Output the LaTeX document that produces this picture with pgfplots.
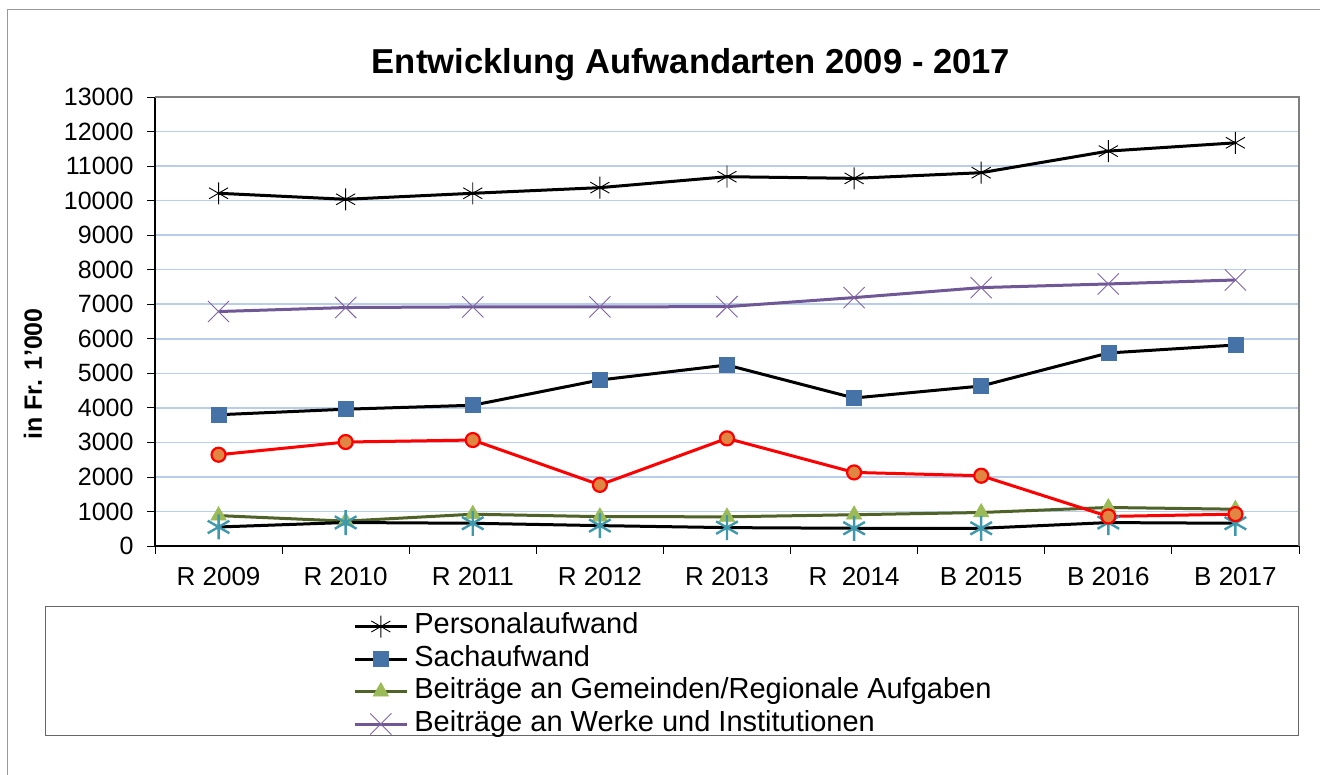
\documentclass[border=0pt]{standalone}
\usepackage{pgfplots}
\pgfplotsset{compat=1.18}
\usepackage{fontspec}
\setmainfont{Liberation Sans}
\definecolor{gridc}{RGB}{185,205,235}
\definecolor{sachc}{RGB}{69,114,167}
\definecolor{greenl}{RGB}{79,98,40}
\definecolor{greenm}{RGB}{155,187,89}
\definecolor{purl}{RGB}{112,88,150}
\definecolor{purm}{RGB}{128,100,162}
\definecolor{cyanm}{RGB}{64,152,172}
\definecolor{orangem}{RGB}{222,134,66}
\begin{document}
\begin{tikzpicture}
\path[use as bounding box] (0pt,0pt) rectangle (1320pt,775pt);
\draw[gray!80, line width=1pt] (7pt,0pt) -- (7pt,765pt) -- (1320pt,765pt);
\node[font=\bfseries\fontsize{34.6}{40}\selectfont] at (691pt,710pt) {Entwicklung Aufwandarten 2009 - 2017};
\node[font=\bfseries\fontsize{25}{30}\selectfont, rotate=90] at (33pt,401pt) {in Fr. 1'000};
\draw[gray!80!black, line width=1pt] (45pt,168pt) rectangle (1298pt,39pt);
\begin{axis}[
  at={(155pt,229pt)}, anchor=south west, scale only axis,
  width=1144pt, height=449pt,
  xmin=-0.5, xmax=8.5, ymin=0, ymax=13000,
  axis x line*=bottom, axis y line*=left,
  axis line style={black, line width=1.5pt},
  tick align=outside,
  major tick length=8pt, minor tick length=8pt,
  xtick={0,...,8},
  xticklabels={R 2009, R 2010, R 2011, R 2012, R 2013, R~~2014, B 2015, B 2016, B 2017},
  minor xtick={-0.5,0.5,...,8.5},
  major x tick style={draw=none},
  minor x tick style={black, line width=0.8pt},
  ytick={0,1000,...,13000},
  ytick style={black, line width=0.8pt},
  scaled y ticks=false,
  /pgf/number format/fixed,
  /pgf/number format/1000 sep={},
  /pgf/number format/assume math mode=true,
  yticklabel style={font=\fontsize{25}{30}\selectfont, xshift=-10pt},
  xticklabel style={font=\fontsize{26}{30}\selectfont, yshift=-10pt},
  ymajorgrids, grid style={gridc, line width=1.5pt},
  legend style={at={(0.1706,-0.141)}, anchor=north west, draw=none, fill=none,
     font=\fontsize{29}{32}\selectfont,
     nodes={inner sep=1pt, text height=21pt, text depth=7pt}, row sep=2.5pt,
     /tikz/every odd column/.append style={column sep=5pt}},
  legend cell align=left,
  legend image code/.code={\draw[mark repeat=2,mark phase=2,#1] plot coordinates {(0pt,0pt) (26pt,0pt) (52pt,0pt)};},
  clip=false,
]
\addplot[black, line width=3pt, mark=asterisk, mark size=11pt, mark options={line width=0.9pt}]
 coordinates {(0,10212) (1,10038) (2,10212) (3,10375) (4,10692) (5,10644) (6,10808) (7,11433) (8,11673)};
\addlegendentry{Personalaufwand}
\addplot[black, line width=3pt, mark=square*, mark size=7.5pt, mark options={fill=sachc, draw=sachc, line width=0.5pt}]
 coordinates {(0,3800) (1,3960) (2,4075) (3,4806) (4,5240) (5,4285) (6,4632) (7,5588) (8,5819)};
\addlegendentry{Sachaufwand}
\addplot[greenl, line width=3pt, mark=triangle*, mark size=9pt, mark options={fill=greenm, draw=greenm, line width=0.5pt}]
 coordinates {(0,880) (1,720) (2,920) (3,850) (4,845) (5,905) (6,970) (7,1115) (8,1065)};
\addlegendentry{Beiträge an Gemeinden/Regionale Aufgaben}
\addplot[purl, line width=3pt, mark=x, mark size=15pt, mark options={draw=purm, line width=0.9pt}]
 coordinates {(0,6788) (1,6904) (2,6923) (3,6923) (4,6930) (5,7192) (6,7481) (7,7587) (8,7702)};
\addlegendentry{Beiträge an Werke und Institutionen}
\addplot[forget plot, black, line width=3pt, mark=asterisk, mark size=12.5pt, mark options={draw=cyanm, line width=2.4pt}]
 coordinates {(0,550) (1,680) (2,658) (3,590) (4,532) (5,513) (6,513) (7,678) (8,658)};
\addplot[forget plot, red, line width=3pt, mark=*, mark size=7pt, mark options={fill=orangem, draw=red, line width=2.2pt}]
 coordinates {(0,2642) (1,3010) (2,3068) (3,1770) (4,3116) (5,2130) (6,2034) (7,855) (8,922)};
\draw[gray, line width=1.5pt] (rel axis cs:0,1) -- (rel axis cs:1,1) -- (rel axis cs:1,0);
\end{axis}
\end{tikzpicture}
\end{document}
